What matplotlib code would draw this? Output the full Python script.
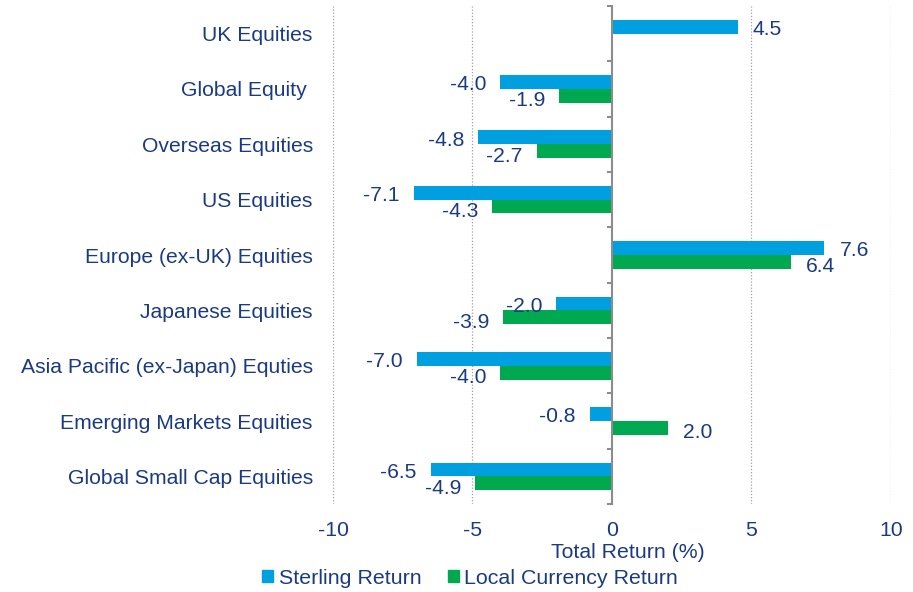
import matplotlib
matplotlib.use("Agg")
import matplotlib.pyplot as plt
import numpy as np
from matplotlib.patches import Patch

categories = ["UK Equities", "Global Equity ", "Overseas Equities", "US Equities",
              "Europe (ex-UK) Equities", "Japanese Equities",
              "Asia Pacific (ex-Japan) Equties", "Emerging Markets Equities",
              "Global Small Cap Equities"]
sterling = [4.5, -4.0, -4.8, -7.1, 7.6, -2.0, -7.0, -0.8, -6.5]
local = [np.nan, -1.9, -2.7, -4.3, 6.4, -3.9, -4.0, 2.0, -4.9]
xticks = [-10, -5, 0, 5, 10]

BLUE = "#009FE0"
GREEN = "#00A94F"
NAVY = "#1B3A84"
FS = 15.3
plt.rcParams['font.family'] = ['Liberation Sans', 'DejaVu Sans']

fig = plt.figure(figsize=(9.13, 5.92), dpi=100)
ax = fig.add_axes([0.3647, 0.1486, 0.6112, 0.8413])

n = len(categories)
y = np.arange(n)
h = 0.25
ax.barh(y - h / 2, sterling, height=h, color=BLUE, zorder=3)
ax.barh(y + h / 2, local, height=h, color=GREEN, zorder=3)
ax.set_ylim(n - 0.5, -0.5)
ax.set_xlim(-10, 10)

for v, yy in zip(sterling, y - h / 2):
    if np.isnan(v):
        continue
    off = 0.55 if v > 0 else -0.5
    ax.text(v + off, yy + 0.05, f"{v:.1f}", ha="left" if v > 0 else "right",
            va="center", color=NAVY, fontsize=15.2)
for v, yy in zip(local, y + h / 2):
    if np.isnan(v):
        continue
    off = 0.55 if v > 0 else -0.5
    ax.text(v + off, yy + 0.09, f"{v:.1f}", ha="left" if v > 0 else "right",
            va="center", color=NAVY, fontsize=15.2)

for xv in [-10, -5, 5, 10]:
    ax.axvline(xv, color="#A0A0A0", lw=0.9, ls=(0, (1, 1.5)), zorder=1)
ax.axvline(0, color="#8C8C8C", lw=1.5, zorder=4)
for b in np.arange(-0.5, n, 1.0):
    ax.plot([-0.15, 0], [b, b], color="#8C8C8C", lw=1.5, zorder=4, clip_on=False)

for s in ax.spines.values():
    s.set_visible(False)
ax.set_xticks(xticks)
ax.set_xticklabels([str(t) for t in xticks], color=NAVY, fontsize=FS)
ax.tick_params(axis="x", length=0, pad=12)
ax.set_yticks(y)
ax.set_yticklabels(categories, color=NAVY, fontsize=15.2)
ax.tick_params(axis="y", length=0, pad=14.5)
fig.text(628 / 913, 1 - 553 / 592, "Total Return (%)", color=NAVY, fontsize=FS,
         ha="center", va="center")

handles = [Patch(color=BLUE, label="Sterling Return"),
           Patch(color=GREEN, label="Local Currency Return")]
fig.legend(handles=handles, loc="center", bbox_to_anchor=(0.515, 0.0236), ncol=2,
           frameon=False, fontsize=15.4, handlelength=0.52, handleheight=0.52,
           handletextpad=0.25, columnspacing=1.25, labelcolor=NAVY,
           borderaxespad=0, borderpad=0)

fig.savefig("out.png", dpi=100)
